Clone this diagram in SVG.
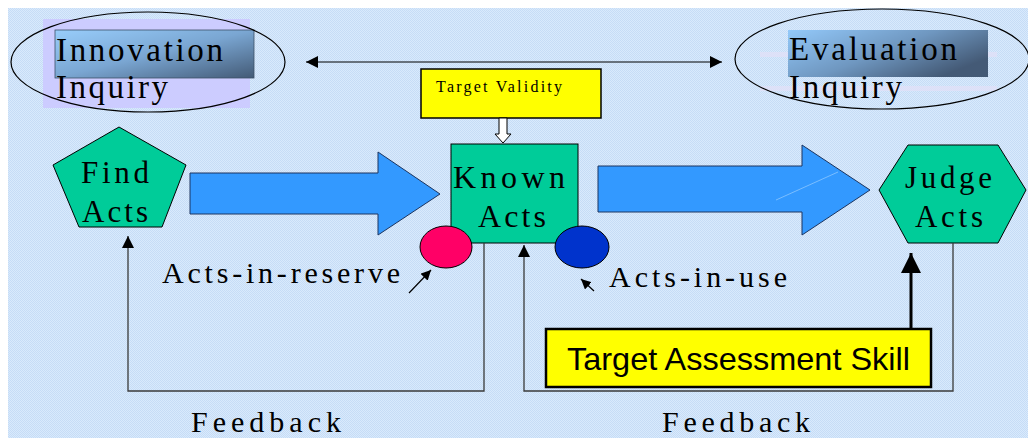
<svg xmlns="http://www.w3.org/2000/svg" width="1028" height="438" viewBox="0 0 1028 438">
<defs>
<pattern id="bgp" width="2" height="2" patternUnits="userSpaceOnUse">
<rect width="2" height="2" fill="#d9eafc"/>
<rect width="1" height="1" fill="#c6dcf6"/>
<rect x="1" y="1" width="1" height="1" fill="#c6dcf6"/>
</pattern>
<linearGradient id="g1" x1="0" y1="0" x2="1" y2="1">
<stop offset="0" stop-color="#98cdfb"/>
<stop offset="0.5" stop-color="#7aa6d2"/>
<stop offset="1" stop-color="#435a76"/>
</linearGradient>
<linearGradient id="g2" x1="0" y1="0" x2="1" y2="0.6">
<stop offset="0" stop-color="#93c9fa"/>
<stop offset="0.55" stop-color="#6f97c0"/>
<stop offset="1" stop-color="#445a76"/>
</linearGradient>
<marker id="arr" viewBox="0 0 12 12" refX="12" refY="6" markerWidth="12" markerHeight="12" markerUnits="userSpaceOnUse" orient="auto-start-reverse">
<path d="M0,0 L12,6 L0,12 z" fill="#000"/>
</marker>
<marker id="arrS" viewBox="0 0 10 10" refX="10" refY="5" markerWidth="10" markerHeight="10" markerUnits="userSpaceOnUse" orient="auto">
<path d="M0,0 L10,5 L0,10 z" fill="#000"/>
</marker>
<marker id="arrB" viewBox="0 0 20 20" refX="20" refY="10" markerWidth="20" markerHeight="20" markerUnits="userSpaceOnUse" orient="auto">
<path d="M0,0 L20,10 L0,20 z" fill="#000"/>
</marker>
<style>
.serif{font-family:"Liberation Serif","Times New Roman",serif;fill:#000}
.big{font-size:33px}
.node{fill:#00cc99;stroke:#000;stroke-width:1}
.barrow{fill:#3399ff;stroke:#1c3560;stroke-width:1}
.yel{fill:#ffff00;stroke:#000}
.fb{fill:none;stroke:#3a3a3a;stroke-width:1.3}
</style>
</defs>

<rect width="1028" height="438" fill="#fff"/>
<rect x="8" y="8" width="1020" height="430" fill="url(#bgp)"/>

<g id="innovation-inquiry">
<rect x="43" y="19" width="207" height="89" fill="#ccccff"/>
<rect x="55" y="30" width="199" height="48" fill="url(#g1)" stroke="#3e5068" stroke-width="0.8"/>
<ellipse cx="148" cy="62" rx="137" ry="50" fill="none" stroke="#000" stroke-width="1.2"/>
<text class="serif big" x="56" y="61" textLength="167" lengthAdjust="spacing">Innovation</text>
<text class="serif big" x="56" y="98" textLength="112" lengthAdjust="spacing">Inquiry</text>
</g>

<g id="evaluation-inquiry">
<rect x="760" y="52" width="237" height="5" fill="#e2e0f8" opacity="0.7"/>
<rect x="760" y="86" width="237" height="5" fill="#e2e0f8" opacity="0.7"/>
<rect x="788" y="30" width="200" height="47" fill="url(#g2)"/>
<ellipse cx="882" cy="59" rx="147" ry="50" fill="none" stroke="#000" stroke-width="1.2"/>
<text class="serif big" x="789" y="60" textLength="168" lengthAdjust="spacing">Evaluation</text>
<text class="serif big" x="789" y="98" textLength="113" lengthAdjust="spacing">Inquiry</text>
</g>

<g id="target-validity">
<rect class="yel" x="421" y="69" width="180" height="49" stroke-width="1.5"/>
<text class="serif" x="436" y="92" font-size="16" textLength="126" lengthAdjust="spacing">Target Validity</text>
<polygon points="499,118 507,118 507,134 511,134 503,143 495,134 499,134" fill="#fff" stroke="#000" stroke-width="1"/>
</g>

<g id="find-acts">
<polygon class="node" points="119,127 186,165 162,227 79,227 53,165"/>
<text class="serif" x="81" y="183" font-size="31" textLength="68" lengthAdjust="spacing">Find</text>
<text class="serif" x="82" y="222" font-size="31" textLength="66" lengthAdjust="spacing">Acts</text>
</g>

<g id="arrow-left">
<polygon class="barrow" points="190,173 378,173 378,152 440,194 378,235 378,214 190,214"/>
</g>

<g id="known-acts">
<rect class="node" x="451" y="144" width="127" height="99"/>
<text class="serif" x="453" y="188" font-size="32" textLength="112" lengthAdjust="spacing">Known</text>
<text class="serif" x="478" y="227" font-size="32" textLength="68" lengthAdjust="spacing">Acts</text>
</g>

<g id="arrow-right">
<polygon class="barrow" points="598,166 802,166 802,145 870,190 802,235 802,212 598,212"/>
<line x1="838" y1="172" x2="776" y2="200" stroke="#8cc6ff" stroke-width="0.8"/>
</g>

<g id="judge-acts">
<polygon class="node" points="908,145 998,145 1026,190 998,243 908,243 879,190"/>
<text class="serif" x="905" y="188" font-size="31" textLength="87" lengthAdjust="spacing">Judge</text>
<text class="serif" x="915" y="227" font-size="31" textLength="68" lengthAdjust="spacing">Acts</text>
</g>

<g id="acts-in-reserve">
<ellipse cx="446" cy="247" rx="26" ry="21" fill="#ff0066" stroke="#000" stroke-width="1"/>
<text class="serif" x="162" y="283" font-size="30" textLength="238" lengthAdjust="spacing">Acts-in-reserve</text>
</g>

<g id="acts-in-use">
<ellipse cx="582" cy="247" rx="27" ry="21" fill="#0033cc" stroke="#000" stroke-width="1"/>
<text class="serif" x="609" y="287" font-size="30" textLength="178" lengthAdjust="spacing">Acts-in-use</text>
</g>

<g id="target-assessment-skill">
<rect class="yel" x="546" y="329" width="385" height="58" stroke-width="2.5"/>
<text x="567" y="370" font-family="Liberation Sans, Arial, sans-serif" font-size="32" textLength="343" lengthAdjust="spacingAndGlyphs" fill="#000">Target Assessment Skill</text>
</g>

<g id="feedback-labels">
<text class="serif" x="191" y="432" font-size="30" textLength="150" lengthAdjust="spacing">Feedback</text>
<text class="serif" x="662" y="432" font-size="30" textLength="148" lengthAdjust="spacing">Feedback</text>
</g>

<g id="connectors">
<path d="M306,62 L722,62" fill="none" stroke="#000" stroke-width="1.2" marker-start="url(#arr)" marker-end="url(#arr)"/>
<path class="fb" d="M484,243 L484,391 L128,391 L128,236" marker-end="url(#arr)"/>
<path class="fb" d="M953,243 L953,391 L524,391 L524,245" marker-end="url(#arr)"/>
<path d="M911,329 L911,253" fill="none" stroke="#000" stroke-width="3" marker-end="url(#arrB)"/>
<path d="M409,293 L431,270" fill="none" stroke="#000" stroke-width="1.2" marker-end="url(#arrS)"/>
<path d="M594,291 L581,279" fill="none" stroke="#000" stroke-width="1.2" marker-end="url(#arrS)"/>
</g>
</svg>
